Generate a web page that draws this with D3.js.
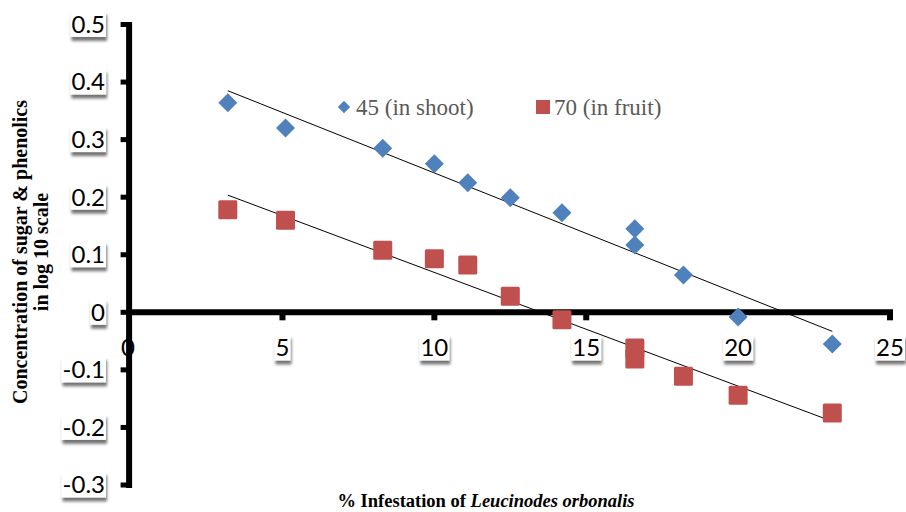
<!DOCTYPE html>
<html>
<head>
<meta charset="utf-8">
<script src="https://cdn.jsdelivr.net/npm/d3@7"></script>
<style>
  body { margin: 0; background: #fff; }
  .tick-label { font-family: Lato, "Open Sans", sans-serif; font-size: 24px; fill: #000; }
  .title { font-family: "Liberation Serif", "Times New Roman", serif; font-weight: bold; fill: #000; }
  .legend { font-family: "Liberation Serif", "Times New Roman", serif; font-size: 23px; fill: #595959; }
</style>
</head>
<body>
<div id="chart"></div>
<script>
// % infestation (x) shared by both series
const infestation = [3.2, 5.1, 8.3, 10, 11.1, 12.5, 14.2, 16.6, 16.6, 18.2, 20, 23.1];
// log10 concentration, 45 days (in shoot)
const shoot45 = [0.364, 0.320, 0.285, 0.258, 0.225, 0.199, 0.173, 0.145, 0.117, 0.065, -0.008, -0.055];
// log10 concentration, 70 days (in fruit)
const fruit70 = [0.178, 0.160, 0.108, 0.093, 0.082, 0.028, -0.013, -0.062, -0.081, -0.111, -0.144, -0.175];

const xTicks = [0, 5, 10, 15, 20, 25];
const yTicks = [0.5, 0.4, 0.3, 0.2, 0.1, 0, -0.1, -0.2, -0.3];

const width = 906, height = 512;
const blue = '#4F81BD', red = '#C0504D';

const svg = d3.select('#chart').append('svg').attr('width', width).attr('height', height);
svg.append('rect').attr('width', width).attr('height', height).attr('fill', '#fff');

// soft shadow under the label boxes
const filter = svg.append('defs').append('filter').attr('id', 'shadow')
  .attr('x', '-30%').attr('y', '-30%').attr('width', '160%').attr('height', '190%');
filter.append('feGaussianBlur').attr('in', 'SourceAlpha').attr('stdDeviation', 1.8).attr('result', 'blur');
filter.append('feOffset').attr('in', 'blur').attr('dx', 1).attr('dy', 4).attr('result', 'off');
filter.append('feComponentTransfer').attr('in', 'off').attr('result', 'soft')
  .append('feFuncA').attr('type', 'linear').attr('slope', 0.55);
const merge = filter.append('feMerge');
merge.append('feMergeNode').attr('in', 'soft');
merge.append('feMergeNode').attr('in', 'SourceGraphic');

const x = d3.scaleLinear().domain([0, 25]).range([130.6, 890]);
const y = d3.scaleLinear().domain([-0.3, 0.5]).range([485, 24.5]);

// least squares trend line
function fit(xs, ys) {
  const mx = d3.mean(xs), my = d3.mean(ys);
  let sxy = 0, sxx = 0;
  xs.forEach((v, i) => { sxy += (v - mx) * (ys[i] - my); sxx += (v - mx) * (v - mx); });
  const b = sxy / sxx;
  const a = my - b * mx;
  const x0 = d3.min(xs), x1 = d3.max(xs);
  return [[x0, a + b * x0], [x1, a + b * x1]];
}

// tick labels with white box + shadow
function boxedLabel(g, tx, ty, text, anchor) {
  const lg = g.append('g');
  const t = lg.append('text').attr('class', 'tick-label')
    .attr('x', tx).attr('y', ty).attr('dy', '0.35em')
    .attr('text-anchor', anchor).text(text);
  const bb = t.node().getBBox();
  lg.insert('rect', 'text')
    .attr('x', bb.x - 1).attr('y', bb.y + 2)
    .attr('width', bb.width + 2).attr('height', bb.height - 3)
    .attr('fill', '#fff').attr('filter', 'url(#shadow)');
  return lg;
}

const fmt = v => v === 0 ? '0' : d3.format('.1f')(v).replace('\u2212', '-');
const labels = svg.append('g');
yTicks.forEach(v => boxedLabel(labels, 105, y(v), fmt(v), 'end'));
xTicks.forEach(v => {
  const lg = boxedLabel(labels, v === 0 ? 128 : x(v), 348, String(v), 'middle');
  if (v === 0) lg.select('rect').remove();
});

// axes
const axes = svg.append('g');
axes.append('line').attr('x1', x(0) - 1.5).attr('x2', x(0) - 1.5).attr('y1', y(0.5) - 2.5).attr('y2', y(-0.3) + 3)
  .attr('stroke', '#000').attr('stroke-width', 6);
axes.append('line').attr('x1', x(0) - 4).attr('x2', x(25) + 3).attr('y1', y(0)).attr('y2', y(0))
  .attr('stroke', '#000').attr('stroke-width', 6);
axes.selectAll('rect.ytick').data(yTicks).enter().append('rect')
  .attr('x', x(0) - 10).attr('y', d => y(d) - 2.5).attr('width', 8).attr('height', 5).attr('fill', '#000');
axes.selectAll('rect.xtick').data(xTicks.slice(1)).enter().append('rect')
  .attr('x', d => x(d) - 3).attr('y', y(0)).attr('width', 6).attr('height', 8).attr('fill', '#000');

// trend lines
const line = d3.line().x(d => x(d[0])).y(d => y(d[1]));
[shoot45, fruit70].forEach(s => {
  svg.append('path').attr('d', line(fit(infestation, s)))
    .attr('fill', 'none').attr('stroke', '#000').attr('stroke-width', 1);
});

// points
const diamond = d3.symbol().type(d3.symbolDiamond2).size(230);
svg.append('g').selectAll('path').data(infestation).enter().append('path')
  .attr('d', diamond)
  .attr('transform', (d, i) => `translate(${x(d)},${y(shoot45[i])})`)
  .attr('fill', blue);

const sq = 19;
svg.append('g').selectAll('rect').data(infestation).enter().append('rect')
  .attr('x', d => x(d) - sq / 2).attr('y', (d, i) => y(fruit70[i]) - sq / 2)
  .attr('width', sq).attr('height', sq).attr('rx', 1.5)
  .attr('fill', red);

// legend
const legend = svg.append('g');
legend.append('path').attr('d', d3.symbol().type(d3.symbolDiamond2).size(98))
  .attr('transform', 'translate(344,107)').attr('fill', blue);
legend.append('text').attr('class', 'legend').attr('x', 356).attr('y', 115).text('45 (in shoot)');
legend.append('rect').attr('x', 536).attr('y', 100).attr('width', 14).attr('height', 14).attr('fill', red);
legend.append('text').attr('class', 'legend').attr('x', 554).attr('y', 115).text('70 (in fruit)');

// axis titles
const yt = svg.append('text').attr('class', 'title').attr('font-size', 20)
  .attr('transform', 'translate(27,252) rotate(-90)').attr('text-anchor', 'middle');
yt.append('tspan').attr('x', 0).attr('y', 0).text('Concentration of sugar & phenolics');
yt.append('tspan').attr('x', 0).attr('y', 21).text('in log 10 scale');

const xt = svg.append('text').attr('class', 'title').attr('font-size', 18.5)
  .attr('x', 486).attr('y', 507).attr('text-anchor', 'middle');
xt.append('tspan').text('% Infestation of ');
xt.append('tspan').attr('font-style', 'italic').text('Leucinodes orbonalis');
</script>
</body>
</html>
